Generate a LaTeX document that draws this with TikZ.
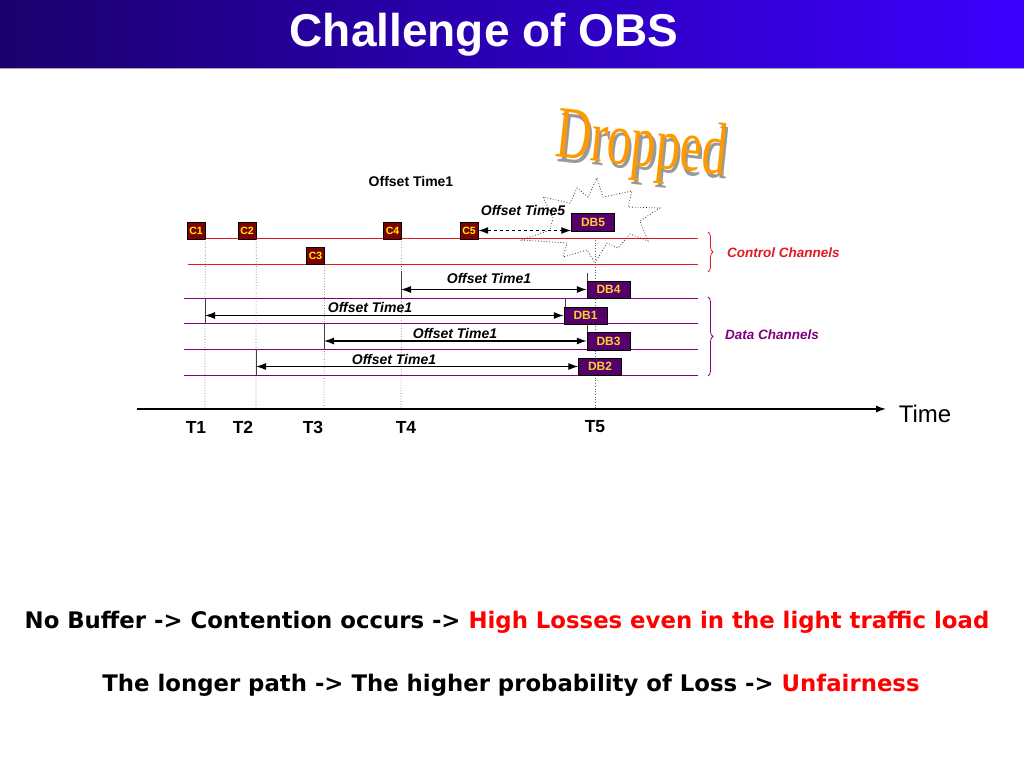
\documentclass[tikz,border=0pt]{standalone}
\usepackage{fontspec}
\setmainfont{Liberation Sans}
\newfontfamily\serifdrop{Liberation Serif}
\newfontfamily\widebold{DejaVu Sans}
\usetikzlibrary{arrows.meta,decorations.pathreplacing}
\definecolor{cbox}{RGB}{128,0,0}
\definecolor{dbbox}{RGB}{85,0,105}
\definecolor{boxtxt}{RGB}{255,204,51}
\definecolor{ctrl}{RGB}{225,25,35}
\definecolor{datac}{RGB}{128,0,128}
\definecolor{drop}{RGB}{255,153,0}
\definecolor{titleL}{RGB}{28,0,110}
\definecolor{titleR}{RGB}{60,0,255}
\begin{document}
\begin{tikzpicture}[x=1pt,y=1pt,
 cb/.style={draw=black, fill=cbox, text=yellow, font=\bfseries\fontsize{10.5}{10.5}\selectfont, minimum width=18pt, minimum height=17pt, inner sep=0pt},
 db/.style={draw=black, fill=dbbox, text=boxtxt, font=\bfseries\fontsize{12}{12}\selectfont, minimum width=43pt, minimum height=17.5pt, inner sep=0pt},
 lbl/.style={font=\bfseries\itshape\fontsize{14}{14}\selectfont, inner sep=0pt},
 tl/.style={font=\bfseries\fontsize{17.5}{17.5}\selectfont, inner sep=0pt},
 ctrlline/.style={draw=ctrl, line width=0.8pt},
 dataline/.style={draw=datac, line width=0.8pt},
 vdot/.style={draw=black!60, dotted, line width=0.7pt},
 off/.style={draw=black, line width=1.2pt, {Latex[length=10pt,width=7pt]}-{Latex[length=10pt,width=7pt]}},
 tickln/.style={draw=black!75, line width=0.8pt},
 bottomtxt/.style={font=\widebold\bfseries\fontsize{22.8}{22.8}\selectfont, inner sep=0pt},
]
\useasboundingbox (0,0) rectangle (1024,-768);
\fill[white] (0,0) rectangle (1024,-768);
% title bar
\shade[left color=titleL, right color=titleR] (0,0) rectangle (1024,-68);
\draw[gray!70, line width=1pt] (0,-68) -- (1024,-68);
\node[text=white, font=\bfseries\fontsize{46}{46}\selectfont] (title) at (484,-35) {Challenge of OBS};

% channel lines
\draw[ctrlline] (188,-238.5) -- (698,-238.5);
\draw[ctrlline] (188,-264) -- (698,-264);
\draw[dataline] (184,-298) -- (698,-298);
\draw[dataline] (184,-323.5) -- (698,-323.5);
\draw[dataline] (184,-349) -- (698,-349);
\draw[dataline] (184,-375) -- (698,-375);

% time axis coordinates
\coordinate (axL) at (137,-409);
\coordinate (axR) at (886,-409);
\coordinate (t1) at (205,-409);
\coordinate (t2) at (256,-409);
\coordinate (t3) at (324,-409);
\coordinate (t4) at (401,-409);
\coordinate (t5) at (595,-409);
\coordinate (t5top) at (595,-240);

% burst
\draw[black!80, dotted, line width=0.8pt] (597,-178) -- (603,-197) -- (632,-191) -- (628,-207) -- (660,-208) -- (640,-221) -- (648,-241) -- (630,-234) -- (618,-248) -- (607,-243) -- (595,-263) -- (587,-250) -- (563,-257) -- (567,-243) -- (522,-240) -- (550,-230) -- (553,-218) -- (543,-197) -- (570,-203) -- (577,-188) -- (588,-197) -- cycle;

% control boxes
\node[cb] (C1) at (196,-230.5) {C1};
\node[cb] (C2) at (247,-230.5) {C2};
\node[cb] (C4) at (392.5,-230.5) {C4};
\node[cb] (C5) at (469,-230.5) {C5};
\node[cb] (C3) at (315.5,-256) {C3};

% dotted verticals
\draw[vdot] (C1.south east) -- (t1);
\draw[vdot] (C2.south east) -- (t2);
\draw[vdot] (C3.south east) -- (t3);
\draw[vdot] (C4.south east) -- (t4);
\draw[vdot] (t5top) -- (t5);

% ticks
\coordinate (k4a) at (401,-271); \coordinate (k4b) at (401,-298);
\coordinate (k5a) at (587,-273); \coordinate (k5b) at (587,-281);
\coordinate (k1a) at (205,-298); \coordinate (k1b) at (205,-323.5);
\coordinate (k6a) at (565,-298); \coordinate (k6b) at (565,-307);
\coordinate (k3a) at (324,-323.5); \coordinate (k3b) at (324,-349);
\coordinate (k7a) at (587,-323.5); \coordinate (k7b) at (587,-332);
\coordinate (k2a) at (256,-349); \coordinate (k2b) at (256,-375);
\draw[tickln] (k4a) -- (k4b);
\draw[tickln] (k5a) -- (k5b);
\draw[tickln] (k1a) -- (k1b);
\draw[tickln] (k6a) -- (k6b);
\draw[tickln] (k3a) -- (k3b);
\draw[tickln] (k7a) -- (k7b);
\draw[tickln] (k2a) -- (k2b);

% data boxes
\node[db] (DB5) at (593,-222) {DB5};
\node[db] (DB4) at (608.5,-289.5) {DB4};
\node[db] (DB1) at (585.5,-315.5) {DB1};
\node[db] (DB3) at (608.5,-341) {DB3};
\node[db] (DB2) at (600,-366.5) {DB2};

% offset arrows
\coordinate (a4) at (401,-289.5);
\coordinate (a1) at (205,-315.5);
\coordinate (a3) at (324,-341);
\coordinate (a2) at (256,-366.5);
\draw[off] (a4) -- (DB4.west);
\draw[off] (a1) -- (DB1.west);
\draw[off] (a3) -- (DB3.west);
\draw[off] (a2) -- (DB2.west);
\coordinate (d5) at (DB5.west |- C5.east);
\draw[off, dashed] (C5.east) -- (d5);

% offset labels
\node[font=\bfseries\fontsize{14}{14}\selectfont, inner sep=0pt] (ot0) at (411,-181) {Offset Time1};
\node[lbl] (ot5) at (523,-210) {Offset Time5};
\node[lbl] (ot4) at (489,-278) {Offset Time1};
\node[lbl] (ot1) at (370,-307) {Offset Time1};
\node[lbl] (ot3) at (455,-333) {Offset Time1};
\node[lbl] (ot2) at (394,-359.5) {Offset Time1};

% braces
\draw[ctrl, line width=0.8pt, decorate, decoration={brace, amplitude=5pt}] (708,-232) -- (708,-272);
\node[text=ctrl, font=\bfseries\itshape\fontsize{13.5}{13.5}\selectfont, anchor=west, inner sep=0pt] (cc) at (727,-253) {Control Channels};
\draw[datac, line width=0.8pt, decorate, decoration={brace, amplitude=5pt}] (708,-297) -- (708,-376);
\node[text=datac, font=\bfseries\itshape\fontsize{13.5}{13.5}\selectfont, anchor=west, inner sep=0pt] (dc) at (725,-335) {Data Channels};

% time axis
\draw[black, line width=1.2pt, -{Latex[length=10pt,width=7pt]}] (axL) -- (axR);
\node[font=\fontsize{24}{24}\selectfont, inner sep=0pt] (time) at (925,-414) {Time};
\node[tl] (T1) at (196,-427) {T1};
\node[tl] (T2) at (243,-427) {T2};
\node[tl] (T3) at (313,-427) {T3};
\node[tl] (T4) at (406,-427) {T4};
\node[tl] (T5) at (595,-427) {T5};

% Dropped (text with its grey shadow, in one node)
\node[text=drop, font=\serifdrop\fontsize{74}{74}\selectfont, rotate=-6, inner sep=0pt] (drop) at (641,-150) {\scalebox{0.66}[1]{\makebox[0pt][l]{\hspace{4pt}\raisebox{-4pt}{\color{black!40}Dropped}}Dropped}};

% bottom text
\node[bottomtxt] (b1) at (507,-622) {No Buffer -> Contention occurs -> \textcolor{red}{High Losses even in the light traffic load}};
\node[bottomtxt] (b2) at (511,-685) {The longer path -> The higher probability of Loss -> \textcolor{red}{Unfairness}};
\end{tikzpicture}
\end{document}
